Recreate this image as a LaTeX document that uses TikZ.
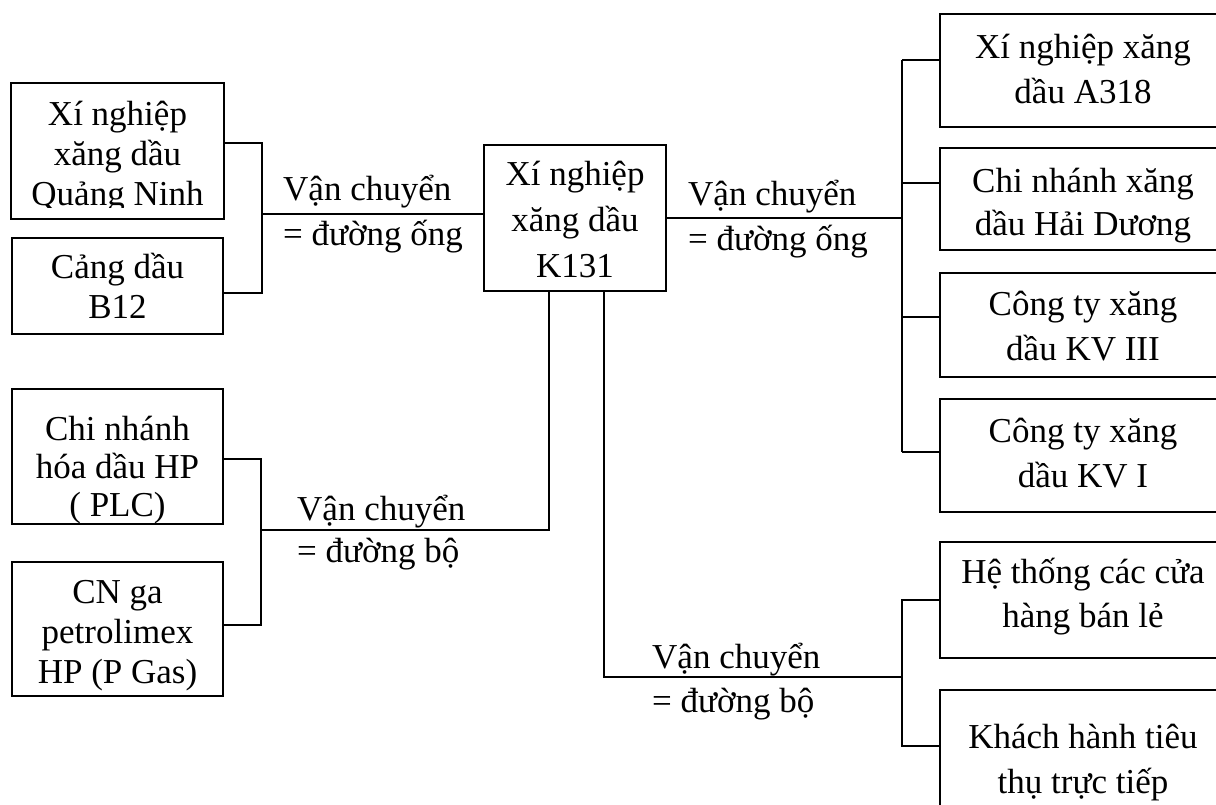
\documentclass[tikz,border=0pt]{standalone}
\usepackage{fontspec}
\setmainfont{Liberation Serif}
\usetikzlibrary{positioning,calc}

% box text: rows #2 apart, first baseline #1 above the node centre
\newcommand{\boxtext}[3]{\raisebox{#1}[0pt][0pt]{\fontsize{35}{#2}\selectfont%
  \begin{tabular}[t]{@{}c@{}}#3\end{tabular}}}
% receiver boxes run past the right edge: text sits 17pt left of their centre
\newcommand{\clienttext}[3]{\hspace*{-34pt}\boxtext{#1}{#2}{#3}}
% transport captions, left aligned, base = first line
\newcommand{\captext}[2]{\fontsize{35}{#1}\selectfont%
  \begin{tabular}[t]{@{}l@{}}#2\end{tabular}}

\begin{document}
\begin{tikzpicture}[x=1pt, y=-1pt,
    unit/.style={rectangle, draw, line width=1.7pt, inner sep=0pt, minimum width=211pt},
    client/.style={rectangle, draw, line width=1.7pt, inner sep=0pt, minimum width=320pt},
    caption/.style={anchor=base west, inner sep=0pt},
    link/.style={line width=1.7pt}]
  \useasboundingbox (0,0) rectangle (1216,804);

  % suppliers by pipeline (last line of the first box is cut by its margin)
  \begin{scope}
    \clip (0,84) rectangle (240,207);
    \node[unit, draw=none, minimum height=134pt] (qn) at (117.5,151) {\boxtext{26pt}{40pt}{Xí nghiệp\\xăng dầu\\Quảng Ninh}};
  \end{scope}
  \draw[line width=1.7pt] (qn.south west) rectangle (qn.north east);
  \node[unit, minimum height=96pt] (b12) at (117.5,286) {\boxtext{8pt}{40pt}{Cảng dầu\\B12}};

  % suppliers by road
  \node[unit, minimum height=135pt] (plc) at (117.5,456.5) {\boxtext{16.5pt}{38pt}{Chi nhánh\\hóa dầu HP\\( PLC)}};
  \node[unit, minimum height=134pt] (pgas) at (117.5,629) {\boxtext{26pt}{40pt}{CN ga\\petrolimex\\HP (P Gas)}};

  % depot
  \node[unit, minimum width=182pt, minimum height=146pt] (k131) at (575,218) {\boxtext{33pt}{46pt}{Xí nghiệp\\xăng dầu\\K131}};

  % receivers
  \node[client, minimum height=113pt] (a318) at (1100,70.5) {\clienttext{12.5pt}{45pt}{Xí nghiệp xăng\\dầu A318}};
  \node[client, minimum height=102pt] (haiduong) at (1100,199) {\clienttext{7pt}{43pt}{Chi nhánh xăng\\dầu Hải Dương}};
  \node[client, minimum height=104pt] (kv3) at (1100,325) {\clienttext{10pt}{45pt}{Công ty xăng\\dầu KV III}};
  \node[client, minimum height=113pt] (kv1) at (1100,455.5) {\clienttext{13.5pt}{45pt}{Công ty xăng\\dầu KV I}};
  \node[client, minimum height=116pt] (retail) at (1100,600) {\clienttext{17pt}{44pt}{Hệ thống các cửa\\hàng bán lẻ}};
  \node[client, minimum height=140pt] (direct) at (1100,760) {\clienttext{12pt}{45pt}{Khách hành tiêu\\thụ trực tiếp}};

  % captions
  \node[caption] (pipein) at (283,200) {\captext{45pt}{Vận chuyển\\= đường ống}};
  \node[caption] (pipeout) at (688,205) {\captext{45pt}{Vận chuyển\\= đường ống}};
  \node[caption] (roadin) at (297,520) {\captext{42pt}{Vận chuyển\\= đường bộ}};
  \node[caption] (roadout) at (652,668) {\captext{44pt}{Vận chuyển\\= đường bộ}};

  % junctions
  \coordinate (jpipein) at (262,214);
  \coordinate (jroadin) at (261,530);
  \coordinate (kroadin) at (549,530);
  \coordinate (jpipeout) at (902,218);
  \coordinate (kroadout) at (604,677);
  \coordinate (jroadout) at (902,677);

  % pipeline in
  \draw[link] ([yshift=8pt]qn.east) -| (jpipein) |- ([yshift=-7pt]b12.east);
  \draw[link] (jpipein) -- (jpipein -| k131.west);
  % road in
  \draw[link] (plc.east |- 0,459) -| (jroadin) |- (pgas.east |- 0,625);
  \draw[link] (jroadin) -- (kroadin) -- (kroadin |- k131.south);
  % pipeline out
  \draw[link] (k131.east) -- (jpipeout);
  \draw[link] (jpipeout |- 0,60) -- (jpipeout |- 0,452);
  \foreach \n/\y in {a318/60, haiduong/183, kv3/317, kv1/452}
    \draw[link] (jpipeout |- 0,\y) -- (\n.west |- 0,\y);
  % road out
  \draw[link] (kroadout |- k131.south) -- (kroadout) -- (jroadout);
  \draw[link] (retail.west) -| (jroadout) |- (direct.west |- 0,746);
\end{tikzpicture}
\end{document}
